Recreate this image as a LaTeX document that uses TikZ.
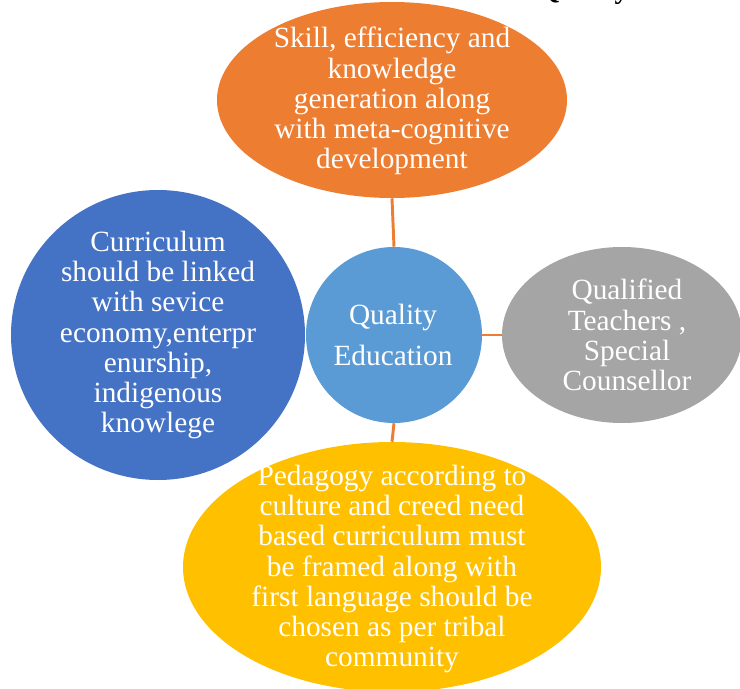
\documentclass[tikz,border=0pt]{standalone}
\usepackage{fontspec}
\setmainfont{Liberation Serif}
\usetikzlibrary{shapes.geometric}
\definecolor{skillorange}{HTML}{ED7D31}
\definecolor{currblue}{HTML}{4472C4}
\definecolor{qualblue}{HTML}{5B9BD5}
\definecolor{teachgray}{HTML}{A5A5A5}
\definecolor{pedgold}{HTML}{FFC000}
\tikzset{
  bubble/.style={ellipse,draw=none,inner sep=0pt},
  txt/.style={text=white,align=center,inner sep=0pt,
    font=\fontsize{22pt}{22.6pt}\selectfont},
  link/.style={draw=skillorange,line width=2.2pt}
}
\begin{document}
\begin{tikzpicture}[x=0.75pt,y=-0.75pt]
      \useasboundingbox (0,0) rectangle (740,689);
      \clip (0,0) rectangle (740,689);
      \node[anchor=base west,inner sep=0pt,font=\fontsize{21pt}{24pt}\selectfont\bfseries]
        (head) at (538,-2) {Quality};
      \node[bubble,fill=skillorange,minimum width=262.5pt,minimum height=147pt] (skill) at (392,100) {};
      \node[bubble,fill=currblue,minimum width=220.5pt,minimum height=217.5pt] (curr) at (158,335) {};
      \node[bubble,fill=teachgray,minimum width=180pt,minimum height=132pt] (teach) at (622,335) {};
      \node[bubble,fill=pedgold,minimum width=313.5pt,minimum height=187.5pt] (ped) at (392,567) {};
      \node[bubble,fill=qualblue,minimum width=132pt,minimum height=132pt] (qual) at (394,335) {};
      \begin{scope}[link]
        \draw (skill.south) to (qual.north);
        \draw (qual.east) to (teach.west);
        \draw (qual.south) to (ped.north);
      \end{scope}
      \node[txt] (skilltxt) at (392,101) {Skill, efficiency and\\knowledge\\generation along\\with meta-cognitive\\development};
      \node[txt] (currtxt) at (158,335) {Curriculum\\should be linked\\with sevice\\economy,enterpr\\enurship,\\indigenous\\knowlege};
      \node[txt,font=\fontsize{22pt}{30.8pt}\selectfont] (qualtxt) at (393,335) {Quality\\Education};
      \node[txt] (teachtxt) at (627,335) {Qualified\\Teachers ,\\Special\\Counsellor};
      \node[txt] (pedtxt) at (392,569) {Pedagogy according to\\culture and creed need\\based curriculum must\\be framed along with\\first language should be\\chosen as per tribal\\community};
    \end{tikzpicture}
\end{document}
